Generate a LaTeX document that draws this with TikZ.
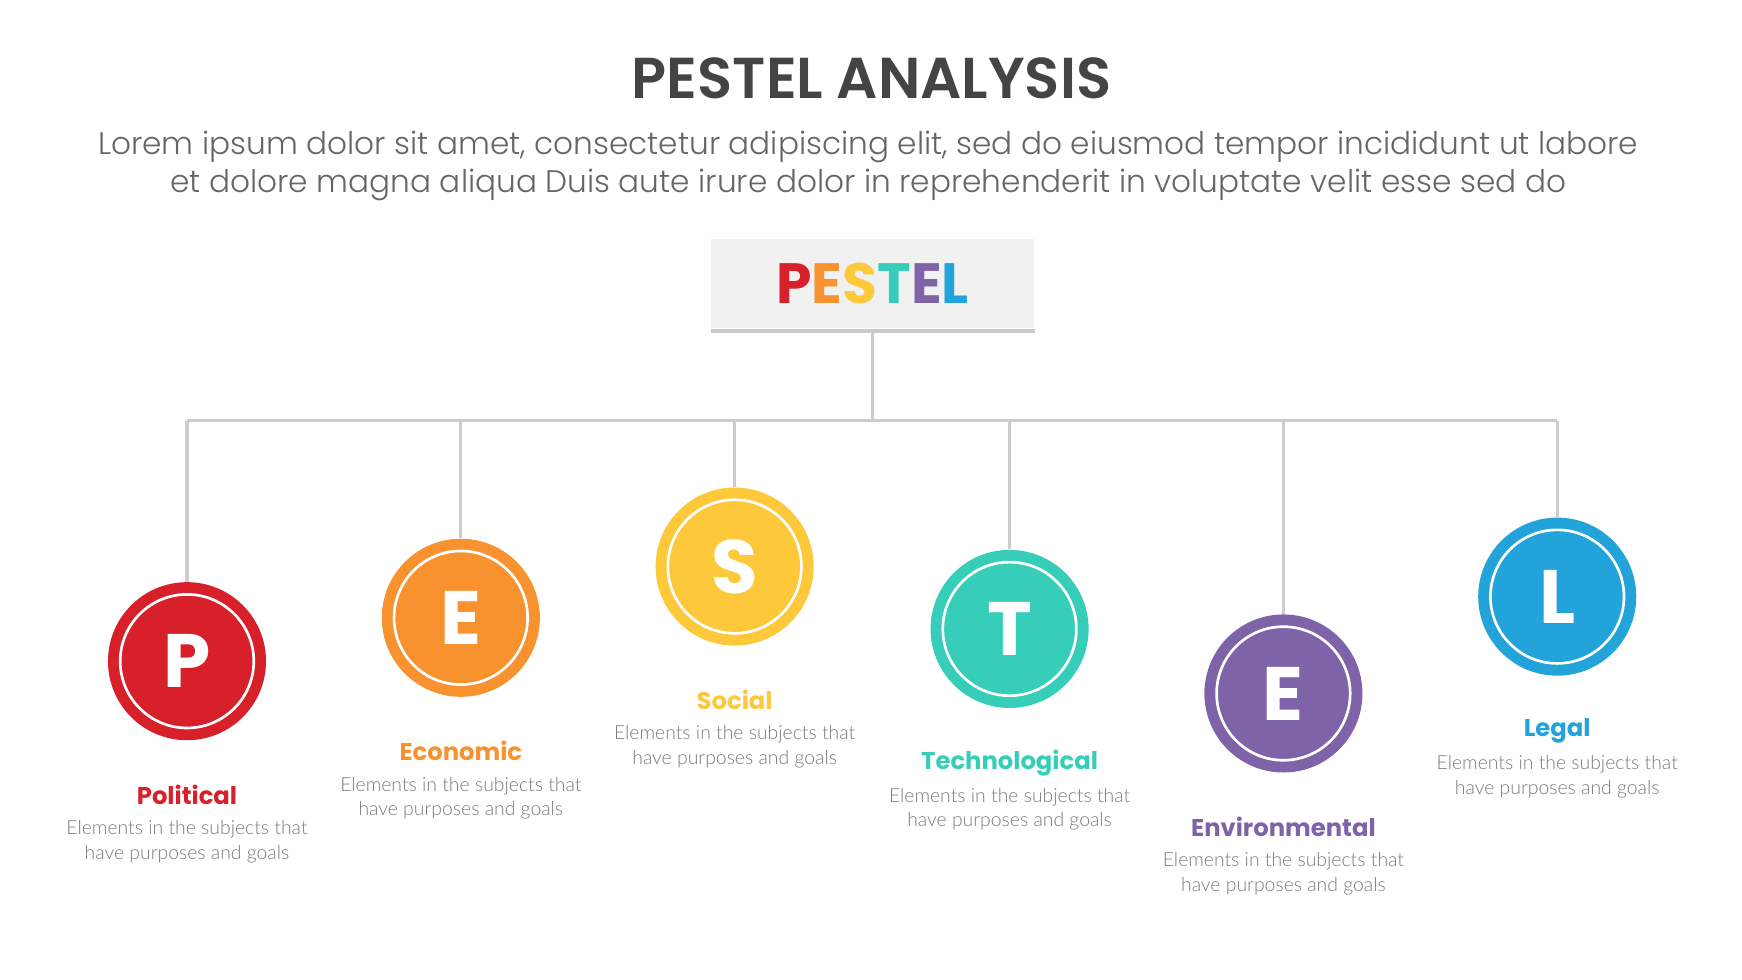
\documentclass[tikz,border=0pt]{standalone}
\usepackage{fontspec}
\setmainfont{Poppins}
\newfontfamily\lightfont{Poppins}[UprightFont=* Light]
\newfontfamily\semifont{Poppins}[UprightFont=* SemiBold]
\newfontfamily\descfont{Lato}[UprightFont=* Light]

\definecolor{cP}{HTML}{D7202A}
\definecolor{cE}{HTML}{F7922F}
\definecolor{cS}{HTML}{FDC93B}
\definecolor{cT}{HTML}{36CDB9}
\definecolor{cV}{HTML}{7F63A8}
\definecolor{cL}{HTML}{22A3D9}
\definecolor{linegray}{HTML}{CCCCCC}
\definecolor{boxgray}{HTML}{F1F1F1}
\definecolor{bargray}{HTML}{C9C9C9}
\definecolor{titlegray}{HTML}{444444}
\definecolor{loremgray}{HTML}{666666}
\definecolor{descgray}{HTML}{7A7A7A}

\tikzset{
  link/.style={draw=linegray, line width=1.5pt},
  disc/.style={circle, minimum size=71pt, inner sep=0pt, text=white,
    font=\fontsize{34}{34}\selectfont\bfseries,
    path picture={\draw[white, line width=1.2pt]
      (path picture bounding box.center) circle (30pt);}},
  head/.style={font=\fontsize{10.9}{12}\selectfont\bfseries},
  desc/.style={font=\descfont\fontsize{8.7}{11}\selectfont, text=descgray, align=center},
}

\begin{document}
\begin{tikzpicture}[x=0.5pt, y=-0.5pt]
\useasboundingbox (0,0) rectangle (1565,880);

\node[text=titlegray, font=\semifont\fontsize{25.9}{30}\selectfont] (title) at (783,70) {PESTEL ANALYSIS};
\node[text=loremgray, font=\lightfont\fontsize{14}{17}\selectfont, align=center] (lorem) at (780,149)
  {Lorem ipsum dolor sit amet, consectetur adipiscing elit, sed do eiusmod tempor incididunt ut labore\\
   et dolore magna aliqua Duis aute irure dolor in reprehenderit in voluptate velit esse sed do};

% top box
\node[fill=boxgray, minimum width=145pt, minimum height=40pt, inner sep=0pt,
  font=\fontsize{25.5}{27}\selectfont\bfseries] (box) at (784,255)
  {{\color{cP}P}{\color{cE}E}{\color{cS}S}{\color{cT}T}{\color{cV}E}{\color{cL}L}};
\fill[bargray] (box.south west) rectangle ([yshift=-2pt]box.south east);

% bus
\coordinate (hub) at (784,378);
\coordinate (busP) at (168,378);
\coordinate (busE) at (414,378);
\coordinate (busS) at (660,378);
\coordinate (busT) at (907,378);
\coordinate (busV) at (1153,378);
\coordinate (busL) at (1399,378);
\draw[link] ([yshift=-2pt]box.south) -- (hub);
\draw[link] (busP) -- (busL);

% circles
\node[disc, fill=cP] (P) at (168,594) {P};
\node[disc, fill=cE] (E) at (414,555) {E};
\node[disc, fill=cS] (S) at (660,509) {S};
\node[disc, fill=cT] (T) at (907,565) {T};
\node[disc, fill=cV] (V) at (1153,623) {E};
\node[disc, fill=cL] (L) at (1399,536) {L};

\draw[link] (busP) -- (P.north);
\draw[link] (busE) -- (E.north);
\draw[link] (busS) -- (S.north);
\draw[link] (busT) -- (T.north);
\draw[link] (busV) -- (V.north);
\draw[link] (busL) -- (L.north);

% labels
\node[head, text=cP] (Phead) at (168,714) {Political};
\node[head, text=cE] (Ehead) at (414,675) {Economic};
\node[head, text=cS] (Shead) at (660,629) {Social};
\node[head, text=cT] (Thead) at (907,686) {Technological};
\node[head, text=cV] (Vhead) at (1153,743) {Environmental};
\node[head, text=cL] (Lhead) at (1399,657) {Legal};

\node[desc] (Pdesc) at (168,756) {Elements in the subjects that\\have purposes and goals};
\node[desc] (Edesc) at (414,717) {Elements in the subjects that\\have purposes and goals};
\node[desc] (Sdesc) at (660,671) {Elements in the subjects that\\have purposes and goals};
\node[desc] (Tdesc) at (907,727) {Elements in the subjects that\\have purposes and goals};
\node[desc] (Vdesc) at (1153,785) {Elements in the subjects that\\have purposes and goals};
\node[desc] (Ldesc) at (1399,698) {Elements in the subjects that\\have purposes and goals};
\end{tikzpicture}
\end{document}
